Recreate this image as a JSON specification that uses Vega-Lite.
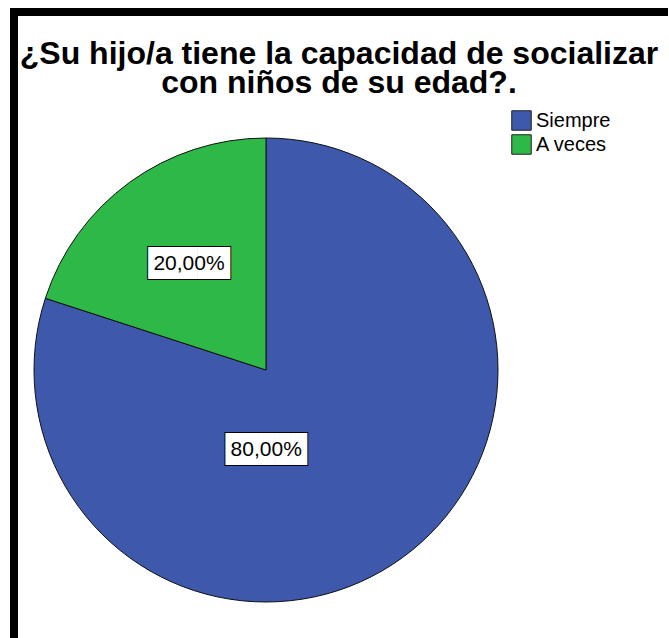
{
  "$schema": "https://vega.github.io/schema/vega-lite/v6.json",
  "autosize": {"type": "pad"},
  "padding": {"left": 8, "top": 6, "right": 0, "bottom": 0},
  "background": "white",
  "spacing": 0,
  "bounds": "flush",
  "title": {
    "text": ["¿Su hijo/a tiene la capacidad de socializar", "con niños de su edad?."],
    "font": "Liberation Sans",
    "fontSize": 32,
    "fontWeight": "bold",
    "color": "black",
    "anchor": "middle",
    "offset": -94,
    "lineHeight": 29
  },
  "datasets": {
    "respuestas": [
      {"respuesta": "Siempre", "proporcion": 0.8},
      {"respuesta": "A veces", "proporcion": 0.2}
    ]
  },
  "vconcat": [
    {
      "width": 650,
      "height": 94,
      "view": {"stroke": "black", "strokeWidth": 8, "strokeCap": "square", "strokeDash": [650, 744, 94, 0]},
      "data": {"name": "respuestas"},
      "mark": {"type": "text"},
      "encoding": {"text": {"value": ""}}
    },
    {
      "width": 504,
      "height": 528,
      "view": {"stroke": "black", "strokeWidth": 8, "strokeCap": "square", "strokeDash": [0, 1536, 528, 0]},
      "data": {"name": "respuestas"},
      "encoding": {
        "theta": {"field": "proporcion", "type": "quantitative", "stack": true},
        "order": {"field": "proporcion", "type": "quantitative", "sort": "descending"},
        "detail": {"field": "respuesta", "type": "nominal"}
      },
      "layer": [
        {
          "mark": {"type": "arc", "outerRadius": 232, "stroke": "#111111", "strokeWidth": 1},
          "encoding": {
            "color": {
              "field": "respuesta",
              "type": "nominal",
              "scale": {"domain": ["Siempre", "A veces"], "range": ["#3e58ac", "#2eb848"]},
              "legend": {
                "title": null,
                "orient": "none",
                "legendX": 497,
                "legendY": 98,
                "padding": 0,
                "symbolType": "square",
                "symbolSize": 380,
                "symbolStrokeColor": "#222222",
                "symbolStrokeWidth": 1,
                "symbolFillOpacity": 1,
                "symbolOpacity": 1,
                "labelFont": "Liberation Sans",
                "labelFontSize": 20,
                "labelColor": "black",
                "labelOffset": 4,
                "rowPadding": -1
              }
            }
          }
        },
        {
          "mark": {"type": "text", "radius": 131, "font": "DejaVu Sans Mono", "fontSize": 27, "fill": "black", "stroke": "black", "strokeWidth": 2, "align": "center", "baseline": "middle"},
          "encoding": {
            "text": {"value": "█████"},
            "opacity": {"condition": {"test": "datum.respuesta === 'A veces'", "value": 1}, "value": 0}
          }
        },
        {
          "mark": {"type": "text", "radius": 131, "font": "DejaVu Sans Mono", "fontSize": 27, "fill": "white", "align": "center", "baseline": "middle"},
          "encoding": {
            "text": {"value": "█████"},
            "opacity": {"condition": {"test": "datum.respuesta === 'A veces'", "value": 1}, "value": 0}
          }
        },
        {
          "mark": {"type": "text", "radius": 131, "font": "Liberation Sans", "fontSize": 21, "fill": "black", "align": "center", "baseline": "middle"},
          "encoding": {
            "text": {"field": "proporcion", "type": "quantitative", "format": ".2%"},
            "opacity": {"condition": {"test": "datum.respuesta === 'A veces'", "value": 1}, "value": 0}
          }
        },
        {
          "transform": [{"filter": "datum.respuesta === 'Siempre'"}],
          "mark": {"type": "text", "radius": 99, "dx": -58, "font": "DejaVu Sans Mono", "fontSize": 27, "fill": "black", "stroke": "black", "strokeWidth": 2, "align": "center", "baseline": "middle"},
          "encoding": {"text": {"value": "█████"}}
        },
        {
          "transform": [{"filter": "datum.respuesta === 'Siempre'"}],
          "mark": {"type": "text", "radius": 99, "dx": -58, "font": "DejaVu Sans Mono", "fontSize": 27, "fill": "white", "align": "center", "baseline": "middle"},
          "encoding": {"text": {"value": "█████"}}
        },
        {
          "transform": [{"filter": "datum.respuesta === 'Siempre'"}],
          "mark": {"type": "text", "radius": 99, "dx": -58, "font": "Liberation Sans", "fontSize": 21, "fill": "black", "align": "center", "baseline": "middle"},
          "encoding": {"text": {"field": "proporcion", "type": "quantitative", "format": ".2%"}}
        }
      ]
    }
  ],
  "config": {
    "font": "Liberation Sans",
    "locale": {
      "number": {"decimal": ",", "thousands": ".", "grouping": [3], "currency": ["", " €"]}
    }
  }
}
